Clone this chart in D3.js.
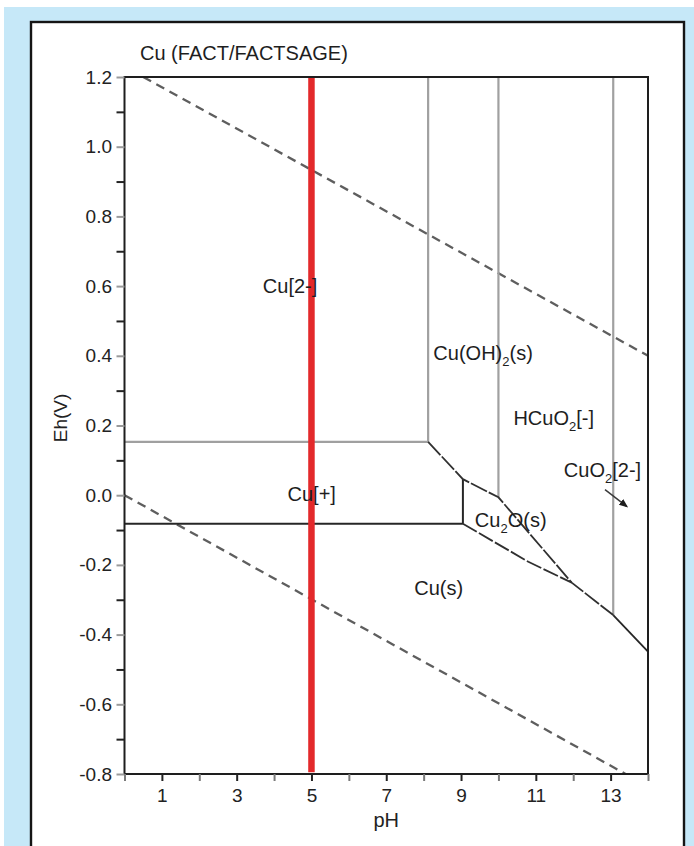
<!DOCTYPE html>
<html>
<head>
<meta charset="utf-8">
<script src="https://cdn.jsdelivr.net/npm/d3@7"></script>
<style>
  html, body { margin: 0; padding: 0; background: #ffffff; }
  svg { display: block; }
  text { font-family: "Liberation Sans", Arial, Helvetica, sans-serif; }
</style>
</head>
<body>
<div id="chart"></div>
<script>
// ---------------- data ----------------
const titleText = "Cu (FACT/FACTSAGE)";
const xLabel = "pH";
const yLabel = "Eh(V)";

const phDomain = [0, 14];
const ehDomain = [-0.8, 1.2];
const phTicks = d3.range(0, 15);
const phLabels = [1, 3, 5, 7, 9, 11, 13];
const ehTicks = d3.range(-8, 13).map(d => d / 10);
const ehLabels = [-0.8, -0.6, -0.4, -0.2, 0.0, 0.2, 0.4, 0.6, 0.8, 1.0, 1.2];

// phase boundaries (pH, Eh)
const cu2PlusCuPlus = [[0, 0.153], [8.12, 0.153]];
const cuPlusCu = [[0, -0.082], [9.05, -0.082]];
const cuOH2Left = [[8.12, 0.153], [8.12, 1.2]];
const hcuo2Left = [[10.0, -0.006], [10.0, 1.2]];
const cuo2Left = [[13.07, -0.344], [13.07, 1.2]];
const oxideUpper = [[8.12, 0.153], [9.05, 0.046], [10.0, -0.006], [11.96, -0.251], [13.07, -0.344]];
const alkalineTail = [[13.07, -0.344], [14.0, -0.449]];
const cu2oLower = [[9.05, -0.082], [10.8, -0.191], [11.96, -0.251]];
const cu2oLeft = [[9.05, 0.046], [9.05, -0.082]];
const waterUpper = [[0.5, 1.2], [14.0, 0.4]];
const waterLower = [[0.0, 0.0], [13.4, -0.8]];
const measurementPH = [[5, 1.2], [5, -0.795]];
const arrowPts = [[12.85, 0.016], [13.43, -0.032]];

// region labels: [main, subscript, rest]
const regionLabels = [
  ["Cu[2-]", "", ""],
  ["Cu(OH)", "2", "(s)"],
  ["HCuO", "2", "[-]"],
  ["CuO", "2", "[2-]"],
  ["Cu[+]", "", ""],
  ["Cu", "2", "O(s)"],
  ["Cu(s)", "", ""]
];
const labelAnchors = [
  [3.70, 0.579],
  [8.26, 0.388],
  [10.40, 0.201],
  [11.75, 0.053],
  [4.36, -0.016],
  [9.37, -0.090],
  [7.75, -0.286]
];

// ---------------- drawing ----------------
const W = 694, H = 846;
const svg = d3.select("#chart").append("svg")
  .attr("width", W).attr("height", H);

// frame background
svg.append("rect").attr("x", 4).attr("y", 7).attr("width", W - 4).attr("height", H - 7)
  .attr("fill", "#c6e8f8");
svg.append("rect").attr("x", 31).attr("y", 22).attr("width", 653).attr("height", 840)
  .attr("fill", "#ffffff").attr("stroke", "#151515").attr("stroke-width", 2.4);

const x = d3.scaleLinear().domain(phDomain).range([124.5, 648]);
const y = d3.scaleLinear().domain(ehDomain).range([774, 77]);
const line = d3.line().x(d => x(d[0])).y(d => y(d[1]));

// title
svg.append("text").attr("x", 140).attr("y", 60)
  .style("font-size", "20px").attr("fill", "#1e1e1e").text(titleText);

// water stability lines
svg.append("path").datum(waterUpper).attr("d", line)
  .attr("fill", "none").attr("stroke", "#5e5e5e").attr("stroke-width", 2.3)
  .attr("stroke-dasharray", "9,6");
svg.append("path").datum(waterLower).attr("d", line)
  .attr("fill", "none").attr("stroke", "#5e5e5e").attr("stroke-width", 2.3)
  .attr("stroke-dasharray", "9,6");

// gray boundaries
[cu2PlusCuPlus, cuOH2Left, hcuo2Left, cuo2Left].forEach(seg => {
  svg.append("path").datum(seg).attr("d", line)
    .attr("fill", "none").attr("stroke", "#a0a0a0").attr("stroke-width", 2.2);
});

// dark boundaries
svg.append("path").datum(cuPlusCu).attr("d", line)
  .attr("fill", "none").attr("stroke", "#262626").attr("stroke-width", 2);
svg.append("path").datum(cu2oLeft).attr("d", line)
  .attr("fill", "none").attr("stroke", "#262626").attr("stroke-width", 2);
svg.append("path").datum(oxideUpper).attr("d", line)
  .attr("fill", "none").attr("stroke", "#303030").attr("stroke-width", 1.8)
  .attr("stroke-dasharray", "18,2");
svg.append("path").datum(cu2oLower).attr("d", line)
  .attr("fill", "none").attr("stroke", "#303030").attr("stroke-width", 1.8)
  .attr("stroke-dasharray", "16,2.5");
svg.append("path").datum(alkalineTail).attr("d", line)
  .attr("fill", "none").attr("stroke", "#262626").attr("stroke-width", 1.8);

// measurement line (red)
svg.append("path").datum(measurementPH).attr("d", line)
  .attr("fill", "none").attr("stroke", "#e3292b").attr("stroke-width", 6.5);

// arrow
const defs = svg.append("defs");
defs.append("marker").attr("id", "ah").attr("viewBox", "0 0 10 10")
  .attr("refX", 8).attr("refY", 5).attr("markerWidth", 6).attr("markerHeight", 6)
  .attr("orient", "auto")
  .append("path").attr("d", "M0,1 L10,5 L0,9 Z").attr("fill", "#1e1e1e");
svg.append("path").datum(arrowPts).attr("d", line)
  .attr("fill", "none").attr("stroke", "#3a3a3a").attr("stroke-width", 1.5)
  .attr("marker-end", "url(#ah)");

// plot frame
svg.append("rect")
  .attr("x", x(phDomain[0])).attr("y", y(ehDomain[1]))
  .attr("width", x(phDomain[1]) - x(phDomain[0]))
  .attr("height", y(ehDomain[0]) - y(ehDomain[1]))
  .attr("fill", "none").attr("stroke", "#1e1e1e").attr("stroke-width", 2);

// y axis
const isLabelY = v => ehLabels.some(l => Math.abs(l - v) < 1e-9);
const yAxis = svg.append("g").attr("transform", `translate(${x(0)},0)`)
  .call(d3.axisLeft(y).tickValues(ehTicks).tickSize(8).tickPadding(4.5)
    .tickFormat(d => isLabelY(d) ? d.toFixed(1) : ""));
yAxis.select(".domain").remove();
yAxis.selectAll(".tick line")
  .attr("stroke", d => isLabelY(d) ? "#9a9a9a" : "#222")
  .attr("stroke-width", 2);
yAxis.selectAll(".tick text")
  .style("font-size", "19px").attr("fill", "#222");

// x axis
const isLabelX = v => phLabels.includes(v);
const xAxis = svg.append("g").attr("transform", `translate(0,${y(-0.8)})`)
  .call(d3.axisBottom(x).tickValues(phTicks).tickSize(7)
    .tickFormat(d => isLabelX(d) ? String(d) : ""));
xAxis.select(".domain").remove();
xAxis.selectAll(".tick line")
  .attr("stroke", d => isLabelX(d) ? "#222" : "#7a7a7a")
  .attr("stroke-width", 2);
xAxis.selectAll(".tick text")
  .attr("y", 28).attr("dy", 0)
  .style("font-size", "19px").attr("fill", "#222");

// axis titles
svg.append("text").attr("x", (x(0) + x(14)) / 2).attr("y", 827)
  .attr("text-anchor", "middle").style("font-size", "20px").attr("fill", "#222")
  .text(xLabel);
svg.append("text").attr("transform", "translate(67,418) rotate(-90)")
  .attr("text-anchor", "middle").style("font-size", "19px").attr("fill", "#222")
  .text(yLabel);

// region labels
regionLabels.forEach((lab, i) => {
  const [ph, eh] = labelAnchors[i];
  const t = svg.append("text").attr("x", x(ph)).attr("y", y(eh))
    .style("font-size", "20px").attr("fill", "#1e1e1e");
  t.append("tspan").text(lab[0]);
  if (lab[1]) {
    t.append("tspan").style("font-size", "13px").attr("dy", 6).text(lab[1]);
    t.append("tspan").attr("dy", -6).text(lab[2]);
  }
});
</script>
</body>
</html>
